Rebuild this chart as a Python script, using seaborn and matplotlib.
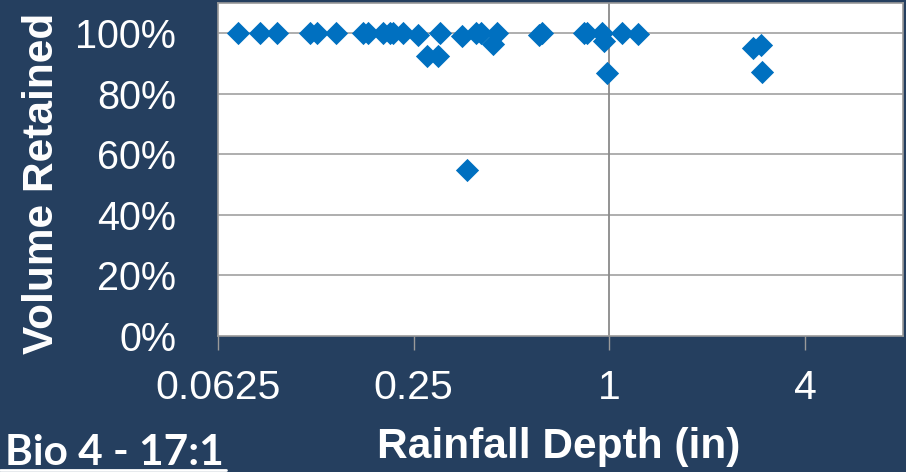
import matplotlib
matplotlib.use("Agg")
import numpy as np
import pandas as pd
import matplotlib.pyplot as plt
import seaborn as sns
from matplotlib.ticker import NullLocator
from matplotlib.lines import Line2D

# ---- data ----
rainfall_in = [0.072, 0.084, 0.095, 0.120, 0.126, 0.144, 0.175, 0.181, 0.201, 0.211,
               0.216, 0.232, 0.258, 0.274, 0.297, 0.301, 0.351, 0.365, 0.390, 0.404,
               0.439, 0.450, 0.608, 0.620, 0.834, 0.854, 0.946, 0.961, 0.984, 1.090,
               1.225, 2.767, 2.936, 2.957]
volume_retained = [1.00, 1.00, 1.00, 1.00, 1.00, 1.00, 1.00, 1.00, 1.00, 1.00,
                   1.00, 1.00, 0.995, 0.924, 0.924, 1.00, 0.99, 0.55, 1.00, 1.00,
                   0.966, 1.00, 0.993, 1.00, 1.00, 1.00, 1.00, 0.974, 0.869, 1.00,
                   0.997, 0.950, 0.960, 0.872]
x_ticks = [0.0625, 0.25, 1, 4]
x_tick_labels = ["0.0625", "0.25", "1", "4"]
y_ticks = [0, 0.2, 0.4, 0.6, 0.8, 1.0]
y_tick_labels = ["0%", "20%", "40%", "60%", "80%", "100%"]
x_label = "Rainfall Depth (in)"
y_label = "Volume Retained"
corner_label = "Bio 4 - 17:1"

BG = "#253F5F"
BLUE = "#0070C0"

df = pd.DataFrame({"rain": rainfall_in, "retained": volume_retained})

sns.set_theme(style="white")
plt.rcParams["font.family"] = ["Liberation Sans", "DejaVu Sans"]

W, H = 906, 472
fig = plt.figure(figsize=(W / 100, H / 100), dpi=100, facecolor=BG)
ax = fig.add_axes([218 / W, 1 - 336 / H, 685 / W, 333 / H])
ax.set_facecolor("white")
ax.set_xscale("log", base=2)

sns.scatterplot(data=df, x="rain", y="retained", marker="D", s=140, color=BLUE,
                linewidth=0, ax=ax, zorder=3, legend=False)

ax.set_xlim(0.0625, 8)
ax.set_ylim(0, 1.1)
ax.set_xticks(x_ticks)
ax.set_xticklabels(x_tick_labels)
ax.xaxis.set_minor_locator(NullLocator())
ax.set_yticks(y_ticks)
ax.set_yticklabels(y_tick_labels)
ax.set_xlabel("")
ax.set_ylabel("")

ax.tick_params(axis="x", which="major", length=10, width=1, color="#9A9A9A",
               direction="out", bottom=True, pad=14, labelsize=29.5, labelcolor="white")
ax.tick_params(axis="y", length=0, pad=30, labelsize=28.5, labelcolor="white")

for yv in y_ticks[1:]:
    ax.axhline(yv, color="#A8A8A8", lw=1.3, zorder=1)
ax.axvline(1, color="#8A8A8A", lw=1.3, zorder=1)

for sp in ax.spines.values():
    sp.set_color("#9A9A9A")
    sp.set_linewidth(1.2)

fig.text(42 / W, 1 - 183 / H, y_label, rotation=90, ha="center", va="center",
         fontsize=30.5, fontweight="bold", color="white")
fig.text(559 / W, 1 - 458 / H, x_label, ha="center", va="baseline",
         fontsize=30.5, fontweight="bold", color="white")
fig.text(5 / W, 1 - 465 / H, corner_label, ha="left", va="baseline",
         fontsize=30.5, fontweight="bold", color="white", family=["Lato", "DejaVu Sans"])
fig.add_artist(Line2D([0, 226 / W], [1 - 470 / H, 1 - 470 / H], color="white", lw=2,
                      transform=fig.transFigure))

fig.savefig("out.png", dpi=100, facecolor=BG)
